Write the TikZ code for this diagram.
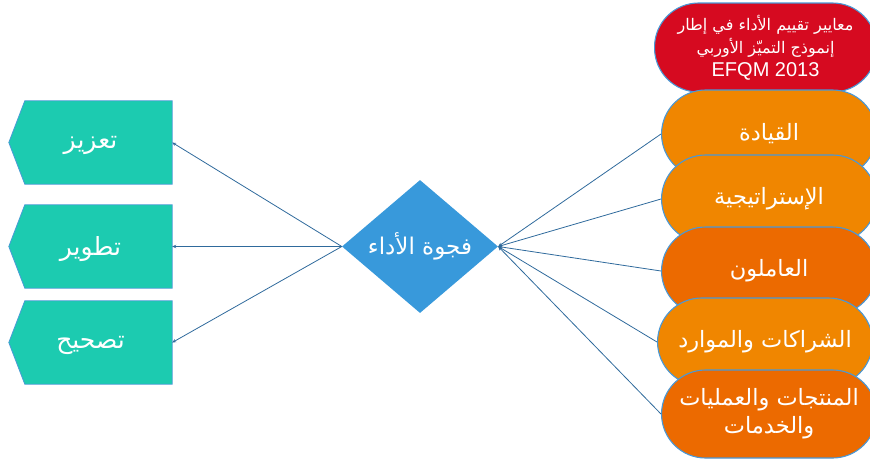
\documentclass[tikz,border=0pt]{standalone}
\usepackage{fontspec}
\setmainfont{Liberation Sans}
\newfontfamily\arabicfont[Script=Arabic]{DejaVu Sans}
\TeXXeTstate=1
\usetikzlibrary{shapes.geometric,calc,arrows.meta}

\definecolor{tealfill}{HTML}{1CCBB0}
\definecolor{tealline}{HTML}{4A9BD6}
\definecolor{gapfill}{HTML}{3899DB}
\definecolor{redfill}{HTML}{D60A20}
\definecolor{orangefill}{HTML}{F08600}
\definecolor{darkorange}{HTML}{EC6A00}
\definecolor{pillline}{HTML}{4A98D6}
\definecolor{linkblue}{HTML}{2F6A9C}

\tikzset{
  actionbox/.style={minimum width=163pt, minimum height=83pt, inner sep=0pt,
    text=white, font=\arabicfont\fontsize{25}{28}\selectfont},
  pill/.style={draw=pillline, line width=1.1pt, rounded corners=44pt,
    minimum width=215pt, minimum height=88pt, inner sep=0pt, anchor=west,
    text=white, align=center, font=\arabicfont\fontsize{22.5}{28}\selectfont},
  link/.style={draw=linkblue, line width=0.8pt,
    -{Stealth[length=4pt,width=3.5pt]}},
}

\begin{document}
\begin{tikzpicture}[x=1pt,y=-1pt]
\useasboundingbox (0,0) rectangle (870,459);

% corrective actions (left-pointing tags)
\foreach \n/\y/\t in {b1/142.5/تعزيز, b2/246.5/تطوير, b3/342.5/تصحيح}{
  \node[actionbox] (\n) at (90.5,\y) {};
  \fill[tealfill, draw=tealline, line width=0.8pt]
    (\n.north east) -- (\n.south east) -- ($(\n.south west)+(16,0)$)
    -- (\n.west) -- ($(\n.north west)+(16,0)$) -- cycle;
  \node[actionbox] at ($(\n)+(0,3)$) {\beginR \t\endR};
}

% performance gap
\node[diamond, fill=gapfill, minimum width=156pt, minimum height=133pt,
  aspect=1.17, inner sep=0pt, text=white,
  font=\arabicfont\fontsize{23}{26}\selectfont] (gap) at (420,246.5)
  {\beginR فجوة الأداء\endR};

% EFQM 2013 criteria
\node[pill, fill=redfill, minimum width=222pt, minimum height=89pt,
  font=\arabicfont\fontsize{16}{23}\selectfont] (hd) at (654,47.5)
  {\beginR معايير تقييم الأداء في إطار\endR\\
   \beginR إنموذج التميّز الأوربي\endR\\
   {\rmfamily\fontsize{20}{22}\selectfont EFQM 2013}};
\node[pill, fill=orangefill] (p1) at (661,134) {\beginR القيادة\endR};
\node[pill, fill=orangefill] (p2) at (661,199) {\beginR الإستراتيجية\endR};
\node[pill, fill=darkorange] (p3) at (661,271) {\beginR العاملون\endR};
\node[pill, fill=orangefill] (p4) at (657,342) {\beginR الشراكات والموارد\endR};
\node[pill, fill=darkorange] (p5) at (661,414)
  {\beginR المنتجات والعمليات\endR\\ \beginR والخدمات\endR};

% connectors
\foreach \p in {p1,p2,p3,p4,p5}{ \draw[link] (\p.west) -- (gap.east); }
\foreach \b in {b1,b2,b3}{ \draw[link] (gap.west) -- (\b.east); }
\end{tikzpicture}
\end{document}
